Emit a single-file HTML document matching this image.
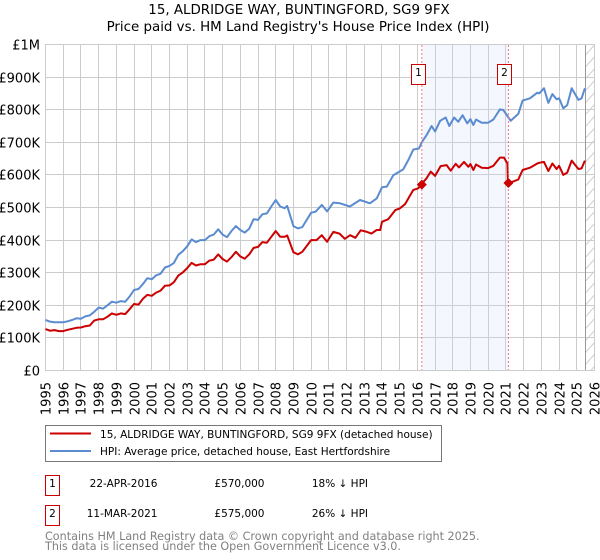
<!DOCTYPE html>
<html>
<head>
<meta charset="utf-8">
<style>
html,body{margin:0;padding:0;background:#fff;}
#wrap{position:relative;width:600px;height:560px;overflow:hidden;font-family:"DejaVu Sans",sans-serif;}
svg{position:absolute;left:0;top:0;}
text{font-family:"DejaVu Sans",sans-serif;}
</style>
</head>
<body>
<div id="wrap">
<svg id="chart" width="600" height="560" viewBox="0 0 600 560">
  <defs>
    <pattern id="hatch" width="9" height="11.9" patternUnits="userSpaceOnUse" patternTransform="translate(585.5,45)">
      <line x1="0" y1="10" x2="9" y2="0" stroke="#cccccc" stroke-width="1"/>
    </pattern>
  </defs>
  <text x="299" y="14" font-size="13.4" text-anchor="middle" fill="#000">15, ALDRIDGE WAY, BUNTINGFORD, SG9 9FX</text>
  <text x="298" y="31" font-size="13.4" text-anchor="middle" fill="#000">Price paid vs. HM Land Registry's House Price Index (HPI)</text>
  <g id="grid"></g>
  <g id="ylabels"></g>
  <g id="xlabels"></g>
  <g id="shade"></g>
  <g id="series"></g>
  <g id="marks"></g>

  <rect x="45.5" y="425.5" width="396" height="36" fill="#fff" stroke="#777" stroke-width="1"/>
  <line x1="50" y1="433.5" x2="91" y2="433.5" stroke="#cc0000" stroke-width="2"/>
  <text x="100" y="438" font-size="10.52" fill="#000">15, ALDRIDGE WAY, BUNTINGFORD, SG9 9FX (detached house)</text>
  <line x1="50" y1="451" x2="91" y2="451" stroke="#5b8bd0" stroke-width="2"/>
  <text x="100" y="455" font-size="10.52" fill="#000">HPI: Average price, detached house, East Hertfordshire</text>

  <rect x="45.5" y="475.5" width="14" height="20" fill="#fff" stroke="#cc0000" stroke-width="1"/>
  <text x="52.5" y="487" font-size="10.5" text-anchor="middle">1</text>
  <text x="157.5" y="487" font-size="10.5" text-anchor="end">22-APR-2016</text>
  <text x="264.5" y="487" font-size="10.5" text-anchor="end">£570,000</text>
  <text x="368" y="487" font-size="10.5" text-anchor="end">18% ↓ HPI</text>

  <rect x="45.5" y="505.5" width="14" height="20" fill="#fff" stroke="#cc0000" stroke-width="1"/>
  <text x="52.5" y="517" font-size="10.5" text-anchor="middle">2</text>
  <text x="157.5" y="517" font-size="10.5" text-anchor="end">11-MAR-2021</text>
  <text x="264.5" y="517" font-size="10.5" text-anchor="end">£575,000</text>
  <text x="368" y="517" font-size="10.5" text-anchor="end">26% ↓ HPI</text>

  <text x="45" y="540" font-size="11.18" fill="#808080">Contains HM Land Registry data © Crown copyright and database right 2025.</text>
  <text x="45" y="550" font-size="11.18" fill="#808080">This data is licensed under the Open Government Licence v3.0.</text>
</svg>
</div>
<script>
var yearTicks = [1995,1996,1997,1998,1999,2000,2001,2002,2003,2004,2005,2006,2007,2008,2009,2010,2011,2012,2013,2014,2015,2016,2017,2018,2019,2020,2021,2022,2023,2024,2025,2026];
var priceTicks = [0,100,200,300,400,500,600,700,800,900,1000];
var priceTickLabels = ['£0','£100K','£200K','£300K','£400K','£500K','£600K','£700K','£800K','£900K','£1M'];

var hpiDates = [1995,1995.25,1995.5,1995.75,1996,1996.25,1996.5,1996.75,1997,1997.25,1997.5,1997.75,1998,1998.25,1998.5,1998.75,1999,1999.25,1999.5,1999.75,2000,2000.25,2000.5,2000.75,2001,2001.25,2001.5,2001.75,2002,2002.25,2002.5,2002.75,2003,2003.25,2003.5,2003.75,2004,2004.25,2004.5,2004.75,2005,2005.25,2005.5,2005.75,2006,2006.25,2006.5,2006.75,2007,2007.25,2007.5,2007.75,2008,2008.25,2008.5,2008.65,2009,2009.25,2009.5,2010,2010.25,2010.6,2010.9,2011.25,2011.63,2012.19,2012.76,2013.32,2013.7,2014,2014.27,2014.64,2015.2,2015.49,2015.77,2016.09,2016.24,2016.52,2016.8,2017,2017.28,2017.6,2017.8,2018.07,2018.31,2018.55,2018.82,2018.99,2019.16,2019.31,2019.63,2020,2020.29,2020.66,2020.85,2021.27,2021.7,2021.94,2022.36,2022.77,2022.88,2023.15,2023.39,2023.62,2023.86,2024,2024.24,2024.46,2024.71,2025.09,2025.27,2025.46];
var hpiValues = [155,150,148,148,148,151,155,160,159,166,169,180,193,190,200,211,208,213,211,227,247,250,265,283,280,292,297,316,321,330,355,366,381,402,394,400,400,412,417,433,417,409,428,443,431,423,435,464,462,479,482,503,523,503,498,505,443,436,440,484,487,508,488,515,513,503,523,513,528,562,564,599,617,646,678,681,700,722,750,733,766,776,750,776,763,783,758,771,753,770,760,760,770,801,799,766,787,828,835,852,850,866,821,848,832,835,804,814,866,830,835,866];

var paidDates = [1995,1995.25,1995.5,1995.75,1996,1996.25,1996.5,1996.75,1997,1997.25,1997.5,1997.75,1998,1998.25,1998.5,1998.75,1999,1999.25,1999.5,1999.75,2000,2000.25,2000.5,2000.75,2001,2001.25,2001.5,2001.75,2002,2002.25,2002.5,2002.75,2003,2003.25,2003.5,2003.75,2004,2004.25,2004.5,2004.75,2005,2005.25,2005.5,2005.75,2006,2006.25,2006.5,2006.75,2007,2007.25,2007.5,2007.75,2008,2008.25,2008.5,2008.65,2009,2009.25,2009.5,2010,2010.3,2010.6,2010.9,2011.25,2011.6,2011.9,2012.2,2012.5,2012.8,2013.1,2013.4,2013.7,2013.9,2014,2014.35,2014.75,2015,2015.3,2015.49,2015.77,2016.05,2016.24,2016.52,2016.75,2017,2017.31,2017.65,2017.88,2018.16,2018.35,2018.63,2018.88,2018.99,2019.16,2019.31,2019.63,2020,2020.29,2020.66,2020.89,2021.08,2021.11,2021.19,2021.7,2021.94,2022.36,2022.77,2022.88,2023.15,2023.39,2023.62,2023.86,2024,2024.24,2024.46,2024.71,2025.09,2025.27,2025.46];
var paidValues = [127,122,124,121,121,125,128,131,132,136,138,153,157,157,165,175,171,175,173,188,204,202,220,232,229,239,245,260,261,271,291,301,314,330,322,326,326,337,340,356,342,334,348,364,350,343,356,376,379,394,392,410,428,410,410,414,363,356,364,400,400,415,395,425,420,404,415,407,430,426,420,431,431,456,464,492,497,510,528,554,559,572,590,610,597,627,630,613,634,623,640,625,633,615,632,622,621,628,653,653,635,584,575,586,615,622,635,637,640,612,635,618,628,600,607,644,618,620,644];

var saleDates = [2016.25,2021.14];
var salePrices = [570,575];
var saleBadges = ['1','2'];
var dataEndDate = [2025.5];

var NS = 'http://www.w3.org/2000/svg';
function xScale(d){ return 45.5 + (d - 1995) * (549 / 31); }
function yScale(v){ return 370.5 - v * 0.326; }
function mk(parent, tag, attrs){
  var el = document.createElementNS(NS, tag);
  for (var k in attrs) el.setAttribute(k, attrs[k]);
  document.getElementById(parent).appendChild(el);
  return el;
}
function snap(p){ return Math.floor(p) + 0.5; }

priceTicks.forEach(function(v, i){
  var y = snap(yScale(v));
  var line = mk('grid', 'line', {x1:45, x2:595, y1:y, y2:y, stroke:'#cccccc', 'stroke-width':1});
  
  
  var t = mk('ylabels', 'text', {x:40, y:y + 5, 'font-size':13, 'text-anchor':'end', fill:'#000'});
  t.textContent = priceTickLabels[i];
  
  
});
yearTicks.forEach(function(yr){
  var x = snap(xScale(yr));
  var line = mk('grid', 'line', {x1:x, x2:x, y1:44, y2:371, stroke:'#cccccc', 'stroke-width':1});
  
  
  var t = mk('xlabels', 'text', {x:0, y:0, 'font-size':13, 'text-anchor':'end', fill:'#000', transform:'translate(' + (x + 5) + ',382) rotate(-90)'});
  t.textContent = String(yr);
  
  
});

var x0 = xScale(saleDates[0]), x1 = xScale(saleDates[1]);
var band = mk('shade', 'rect', {x:x0, y:45, width:x1 - x0, height:325, fill:'#cfdcfa', 'fill-opacity':0.22});



var endX = snap(xScale(dataEndDate[0]));
var hatch = mk('shade', 'rect', {x:endX, y:45, width:594.5 - endX, height:325, fill:'url(#hatch)'});


var endLine = mk('shade', 'line', {x1:endX, x2:endX, y1:45, y2:370, stroke:'#999999', 'stroke-width':1});



function polyline(dates, values, color, name){
  var pts = dates.map(function(d, i){ return xScale(d).toFixed(1) + ',' + yScale(values[i]).toFixed(1); }).join(' ');
  var p = mk('series', 'polyline', {points:pts, fill:'none', stroke:color, 'stroke-width':2, 'stroke-linejoin':'round'});
  
  
}
polyline(hpiDates, hpiValues, '#5b8bd0', 'hpi-line');
polyline(paidDates, paidValues, '#cc0000', 'price-paid-line');

saleDates.forEach(function(d, i){
  var x = xScale(d), y = yScale(salePrices[i]);
  var dash = mk('marks', 'line', {x1:x, x2:x, y1:45, y2:370, stroke:'#ff7777', 'stroke-width':1, 'stroke-dasharray':'2,2'});
  
  
  var dm = mk('marks', 'path', {d:'M' + x + ' ' + (y - 5) + 'L' + (x + 5) + ' ' + y + 'L' + x + ' ' + (y + 5) + 'L' + (x - 5) + ' ' + y + 'Z', fill:'#cc0000'});
  
  
  var bx = Math.round(x) - 10.5;
  var box = mk('marks', 'rect', {x:bx, y:64.5, width:14, height:20, fill:'#fff', stroke:'#cc0000', 'stroke-width':1});
  
  
  var t = mk('marks', 'text', {x:bx + 7, y:76, 'font-size':10.5, 'text-anchor':'middle', fill:'#000'});
  t.textContent = saleBadges[i];
  
  
});
</script>
</body>
</html>
